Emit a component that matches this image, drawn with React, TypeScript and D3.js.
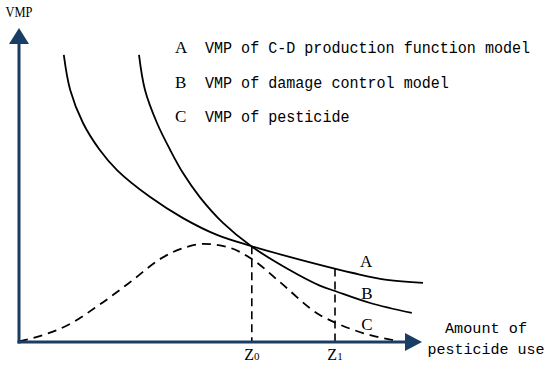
import React from "react";
import * as d3 from "d3";

const curveA: [number, number][] = [
  [11.2, 95.7], [12.8, 84], [16, 73], [20.2, 64], [24.5, 57.3], [32.8, 48.3], [41, 41.3],
  [49.5, 35.7], [58, 32], [75.2, 25.7], [83.5, 23], [92, 20.7], [101, 19.7],
];
const curveB: [number, number][] = [
  [30, 95.7], [31.5, 84], [34.5, 73], [37.8, 64], [41, 56.3], [45.2, 48.3], [51, 39.7],
  [58, 32], [67, 24.5], [75.2, 18.8], [79, 17], [87.8, 13], [98.2, 9.7],
];
const curveC: [number, number][] = [
  [0, 0.2], [6, 2.3], [12, 5.5], [20.2, 12.5], [28.5, 20.7], [35.2, 27.6], [42, 31.7], [46, 32.7],
  [52, 31.7], [58.2, 27.7], [65.2, 20], [75.2, 9], [79, 6.5], [87.8, 2.3], [93.5, 0.6],
];
const z0 = 58.2;
const z1 = 79;
const legendKeys = ["A", "B", "C"];
const legendLabels = [
  "VMP of C-D production function model",
  "VMP of damage control model",
  "VMP of pesticide",
];
const curveLetters = ["A", "B", "C"];
const curveLetterPos: [number, number][] = [[86.8, 25], [87, 14.3], [87, 4]];

const W = 550;
const H = 369;
const AXIS = "#1a3d63";

export default function App() {
  const x = d3.scaleLinear().domain([0, 100]).range([19, 419]);
  const y = d3.scaleLinear().domain([0, 100]).range([342, 42]);
  const line = d3
    .line<[number, number]>()
    .x((d) => x(d[0]))
    .y((d) => y(d[1]))
    .curve(d3.curveCatmullRom.alpha(0.5));
  const lineC = d3
    .line<[number, number]>()
    .x((d) => x(d[0]))
    .y((d) => y(d[1]))
    .curve(d3.curveMonotoneX);

  const interp = (pts: [number, number][], xv: number) => {
    for (let i = 0; i < pts.length - 1; i++) {
      const [x0, y0] = pts[i];
      const [x1, y1] = pts[i + 1];
      if (xv >= x0 && xv <= x1) return y0 + ((y1 - y0) * (xv - x0)) / (x1 - x0);
    }
    return pts[pts.length - 1][1];
  };

  const x0p = x(0);
  const y0p = y(0);
  const mono = "'Liberation Mono', 'DejaVu Sans Mono', monospace";
  const serif = "'Liberation Serif', 'DejaVu Serif', serif";

  return (
    <svg
      width={W}
      height={H}
      viewBox={`0 0 ${W} ${H}`}
      style={{ position: "absolute", left: 0, top: 0, background: "#fff" }}
    >
      {/* guide lines */}
      <line x1={x(z0)} x2={x(z0)} y1={y(interp(curveA, z0))} y2={y0p} stroke="#000" strokeWidth={1.6} strokeDasharray="8,5" />
      <line x1={x(z1)} x2={x(z1)} y1={y(interp(curveA, z1))} y2={y0p} stroke="#000" strokeWidth={1.6} strokeDasharray="8,5" />

      {/* curves */}
      <path d={line(curveA) || ""} fill="none" stroke="#000" strokeWidth={1.8} />
      <path d={line(curveB) || ""} fill="none" stroke="#000" strokeWidth={1.8} />
      <path d={lineC(curveC) || ""} fill="none" stroke="#000" strokeWidth={1.8} strokeDasharray="9,6" />

      {/* axes */}
      <line x1={x0p} x2={x0p} y1={y0p + 1.5} y2={41} stroke={AXIS} strokeWidth={3} />
      <path d={`M${x0p},28 L${x0p - 10},44 L${x0p + 10},44 Z`} fill={AXIS} />
      <line x1={x0p - 1.5} x2={408} y1={y0p} y2={y0p} stroke={AXIS} strokeWidth={3} />
      <path d={`M422,${y0p} L405,${y0p - 9} L405,${y0p + 9} Z`} fill={AXIS} />

      {/* axis labels */}
      <text x={x0p} y={17} textAnchor="middle" fontFamily={serif} fontSize={14} textLength={27} lengthAdjust="spacingAndGlyphs">VMP</text>
      <text x={486} y={333} textAnchor="middle" fontFamily={mono} fontSize={15} textLength={82} lengthAdjust="spacingAndGlyphs">Amount of</text>
      <text x={486} y={354} textAnchor="middle" fontFamily={mono} fontSize={15} textLength={117} lengthAdjust="spacingAndGlyphs">pesticide use</text>

      {/* Z labels */}
      <text x={x(z0)} y={360} textAnchor="middle" fontFamily={serif} fontSize={16}>
        Z<tspan fontSize={11}>0</tspan>
      </text>
      <text x={x(z1)} y={360} textAnchor="middle" fontFamily={serif} fontSize={16}>
        Z<tspan fontSize={11}>1</tspan>
      </text>

      {/* curve letters */}
      {curveLetters.map((c, i) => (
        <text key={c} x={x(curveLetterPos[i][0])} y={y(curveLetterPos[i][1])} textAnchor="middle" fontFamily={serif} fontSize={17}>
          {c}
        </text>
      ))}

      {/* legend */}
      {legendKeys.map((k, i) => (
        <g key={k}>
          <text x={175} y={53 + i * 34.5} fontFamily={serif} fontSize={17}>{k}</text>
          <text x={205} y={53 + i * 34.5} fontFamily={mono} fontSize={16} textLength={legendLabels[i].length * 9.03} lengthAdjust="spacingAndGlyphs">
            {legendLabels[i]}
          </text>
        </g>
      ))}
    </svg>
  );
}
